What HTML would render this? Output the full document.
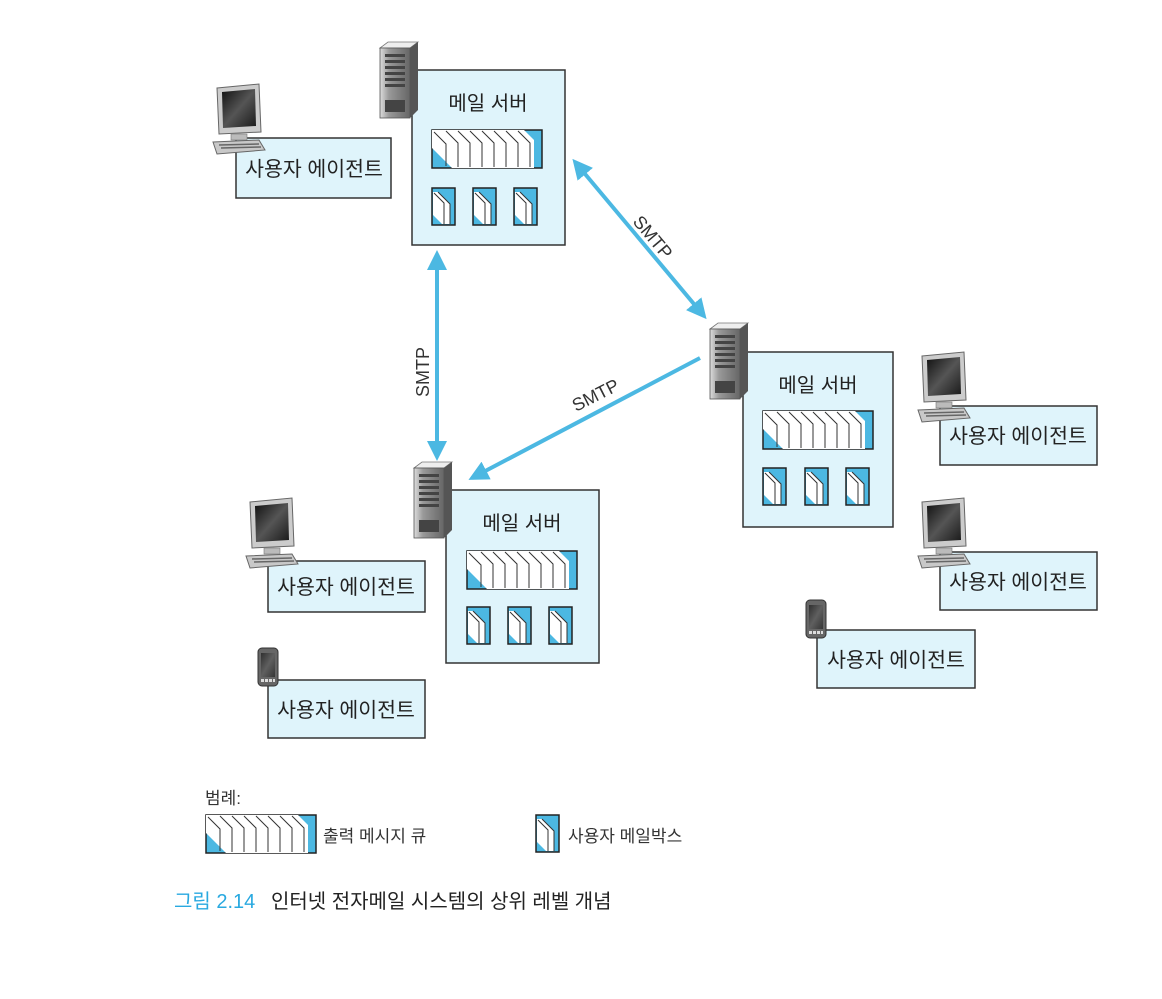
<!DOCTYPE html>
<html><head><meta charset="utf-8"><style>
html,body{margin:0;padding:0;background:#fff;}
svg{display:block;font-family:"Liberation Sans","Noto Sans CJK KR",sans-serif;}
</style></head><body>
<svg width="1162" height="999" viewBox="0 0 1162 999" xmlns="http://www.w3.org/2000/svg">
<defs>
<linearGradient id="scr" x1="0" y1="0" x2="1" y2="1"><stop offset="0" stop-color="#111"/><stop offset="0.5" stop-color="#555"/><stop offset="1" stop-color="#1a1a1a"/></linearGradient>
<linearGradient id="srv" x1="0" y1="0" x2="1" y2="0"><stop offset="0" stop-color="#ddd"/><stop offset="0.3" stop-color="#999"/><stop offset="1" stop-color="#666"/></linearGradient>
<g id="queue">
<rect x="0" y="0" width="110" height="38" fill="#4cb8e2" stroke="#222" stroke-width="1.5"/>
<polygon points="0,0 92,0 102,10 102,38 20,38 0,18" fill="#fff"/>
<g stroke="#333" stroke-width="1" fill="none">
<path d="M2,2 L14,14 L14,36"/><path d="M14,1 L26,13 L26,37"/><path d="M26,1 L38,13 L38,37"/><path d="M38,1 L50,13 L50,37"/><path d="M50,1 L62,13 L62,37"/><path d="M62,1 L74,13 L74,37"/><path d="M74,1 L86,13 L86,37"/><path d="M86,1 L98,13 L98,37"/>
</g>
</g>
<g id="mbox">
<rect x="0" y="0" width="23" height="37" fill="#4cb8e2" stroke="#222" stroke-width="1.5"/>
<polygon points="1,4 6,4 18,16 18,36 10,36 1,27" fill="#fff"/>
<g stroke="#333" stroke-width="1" fill="none"><path d="M2,5 L12,15 L12,36"/><path d="M6,4 L18,16 L18,36"/></g>
</g>
<g id="server">
<polygon points="0,6 8,0 38,0 30,6" fill="#eee" stroke="#777" stroke-width="0.8"/>
<rect x="0" y="6" width="30" height="70" fill="url(#srv)" stroke="#555" stroke-width="0.8"/>
<polygon points="30,6 38,0 38,68 30,76" fill="#555"/>
<g fill="#444"><rect x="5" y="12" width="20" height="3"/><rect x="5" y="18" width="20" height="3"/><rect x="5" y="24" width="20" height="3"/><rect x="5" y="30" width="20" height="3"/><rect x="5" y="36" width="20" height="3"/><rect x="5" y="42" width="20" height="3"/><rect x="5" y="58" width="20" height="12"/></g>
</g>
<g id="pc">
<polygon points="4,4 46,0 48,48 6,50" fill="#ccc" stroke="#666" stroke-width="1"/>
<polygon points="9,8 42,5 43,42 10,44" fill="url(#scr)"/>
<rect x="18" y="50" width="16" height="6" fill="#bbb" stroke="#777" stroke-width="0.6"/>
<polygon points="0,58 46,56 52,66 4,70" fill="#c8c8c8" stroke="#666" stroke-width="1"/>
<path d="M6,61 L46,60 M8,64 L48,63" stroke="#666" stroke-width="1.5"/>
</g>
<g id="phone">
<rect x="0" y="0" width="20" height="38" rx="4" fill="#666" stroke="#333"/>
<rect x="3" y="5" width="14" height="24" fill="#777"/>
<rect x="3" y="5" width="14" height="24" fill="url(#scr)" opacity="0.7"/>
<g fill="#ddd"><rect x="3" y="31" width="3" height="3"/><rect x="7" y="31" width="3" height="3"/><rect x="11" y="31" width="3" height="3"/><rect x="15" y="31" width="2" height="3"/></g>
</g>
<marker id="ah" viewBox="0 0 10 10" refX="8" refY="5" markerWidth="5" markerHeight="5" orient="auto-start-reverse"><path d="M0,0 L10,5 L0,10 z" fill="#4cb8e2"/></marker>
</defs>

<g stroke="#4cb8e2" stroke-width="4" fill="none">
<line x1="575" y1="162" x2="704" y2="316" marker-start="url(#ah)" marker-end="url(#ah)"/>
<line x1="437" y1="254" x2="437" y2="457" marker-start="url(#ah)" marker-end="url(#ah)"/>
<line x1="700" y1="358" x2="472" y2="478" marker-end="url(#ah)"/>
</g>
<text x="0" y="0" font-size="18" fill="#333" transform="translate(632,222) rotate(50)">SMTP</text>
<text x="0" y="0" font-size="18" fill="#333" transform="translate(429,397) rotate(-90)">SMTP</text>
<text x="0" y="0" font-size="18" fill="#333" transform="translate(576,412) rotate(-27)">SMTP</text>

<g font-size="20" fill="#222" text-anchor="middle">
<rect x="412" y="70" width="153" height="175" fill="#dff4fb" stroke="#333" stroke-width="1.5"/>
<use href="#server" x="380" y="42"/>
<text x="488" y="110">메일 서버</text>
<rect x="743" y="352" width="150" height="175" fill="#dff4fb" stroke="#333" stroke-width="1.5"/>
<use href="#server" x="710" y="323"/>
<text x="818" y="392">메일 서버</text>
<rect x="446" y="490" width="153" height="173" fill="#dff4fb" stroke="#333" stroke-width="1.5"/>
<use href="#server" x="414" y="462"/>
<text x="522" y="530">메일 서버</text>
</g>
<use href="#queue" x="432" y="130"/>
<use href="#mbox" x="432" y="188"/><use href="#mbox" x="473" y="188"/><use href="#mbox" x="514" y="188"/>
<use href="#queue" x="763" y="411"/>
<use href="#mbox" x="763" y="468"/><use href="#mbox" x="805" y="468"/><use href="#mbox" x="846" y="468"/>
<use href="#queue" x="467" y="551"/>
<use href="#mbox" x="467" y="607"/><use href="#mbox" x="508" y="607"/><use href="#mbox" x="549" y="607"/>

<g font-size="20.5" fill="#222" text-anchor="middle">
<rect x="236" y="138" width="155" height="60" fill="#dff4fb" stroke="#333" stroke-width="1.5"/>
<use href="#pc" x="213" y="84"/>
<text x="314" y="176">사용자 에이전트</text>

<rect x="940" y="406" width="157" height="59" fill="#dff4fb" stroke="#333" stroke-width="1.5"/>
<use href="#pc" x="918" y="352"/>
<text x="1018" y="443">사용자 에이전트</text>

<rect x="940" y="552" width="157" height="58" fill="#dff4fb" stroke="#333" stroke-width="1.5"/>
<use href="#pc" x="918" y="498"/>
<text x="1018" y="589">사용자 에이전트</text>

<rect x="817" y="630" width="158" height="58" fill="#dff4fb" stroke="#333" stroke-width="1.5"/>
<use href="#phone" x="806" y="600"/>
<text x="896" y="667">사용자 에이전트</text>

<rect x="268" y="561" width="157" height="51" fill="#dff4fb" stroke="#333" stroke-width="1.5"/>
<use href="#pc" x="246" y="498"/>
<text x="346" y="594">사용자 에이전트</text>

<rect x="268" y="680" width="157" height="58" fill="#dff4fb" stroke="#333" stroke-width="1.5"/>
<use href="#phone" x="258" y="648"/>
<text x="346" y="717">사용자 에이전트</text>
</g>

<text x="205" y="804" font-size="17" fill="#333">범례:</text>
<use href="#queue" x="206" y="815"/>
<text x="323" y="842" font-size="17" fill="#333">출력 메시지 큐</text>
<use href="#mbox" x="536" y="815"/>
<text x="568" y="842" font-size="17" fill="#333">사용자 메일박스</text>

<text x="174" y="908" font-size="20" fill="#29a9e0">그림 2.14</text>
<text x="271" y="908" font-size="20" fill="#222">인터넷 전자메일 시스템의 상위 레벨 개념</text>
</svg>
</body></html>
